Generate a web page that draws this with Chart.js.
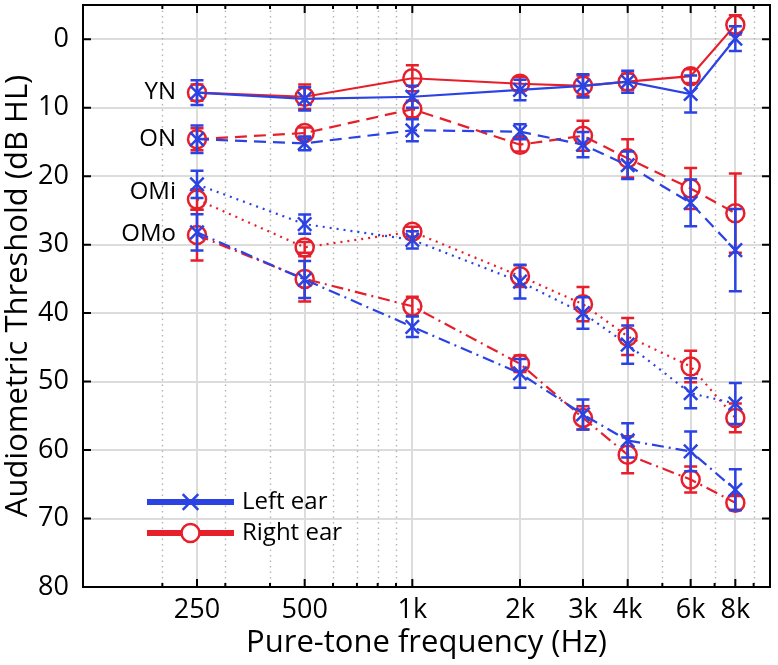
<!DOCTYPE html>
<html>
<head>
<meta charset="utf-8">
<script src="https://cdn.jsdelivr.net/npm/chart.js@4.4.1/dist/chart.umd.min.js"></script>
<style>
  body { margin: 0; background: #fff; }
  canvas { display: block; }
</style>
</head>
<body>
<canvas id="audiogram" width="778" height="665"></canvas>
<script>
// frequencies (Hz) and axis ticks
const freqs = [250, 500, 1000, 2000, 3000, 4000, 6000, 8000];
const freqLabels = ['250', '500', '1k', '2k', '3k', '4k', '6k', '8k'];
const minorFreqs = [200, 300, 400, 600, 700, 800, 900, 5000, 7000, 9000];
const yTicks = [0, 10, 20, 30, 40, 50, 60, 70, 80];

// thresholds (dB HL) and error bars, per group and ear
const ynLeft = [7.8, 8.7, 8.4, 7.4, 6.8, 6.2, 8.0, -0.1];
const ynLeftErr = [1.8, 1.7, 1.6, 1.5, 1.7, 1.6, 2.7, 1.8];
const ynRight = [7.8, 8.4, 5.7, 6.5, 6.8, 6.2, 5.4, -2.1];
const ynRightErr = [1.2, 1.8, 1.9, 1.0, 1.5, 1.2, 1.0, 1.4];

const onLeft = [14.6, 15.2, 13.3, 13.5, 15.4, 18.4, 23.9, 30.8];
const onLeftErr = [2.0, 1.0, 1.6, 1.1, 1.85, 2.0, 3.4, 6.0];
const onRight = [14.6, 13.7, 10.2, 15.4, 14.1, 17.4, 21.8, 25.4];
const onRightErr = [1.6, 0.8, 1.2, 1.0, 2.2, 2.8, 3.0, 5.8];

const omiLeft = [21.2, 27.0, 29.3, 35.4, 40.0, 44.6, 51.7, 53.2];
const omiLeftErr = [2.0, 1.4, 1.25, 2.45, 2.3, 2.8, 2.2, 3.0];
const omiRight = [23.4, 30.4, 28.1, 34.6, 38.7, 43.4, 47.8, 55.3];
const omiRightErr = [1.5, 0.8, 0.7, 1.6, 2.5, 2.7, 2.3, 2.1];

const omoLeft = [28.2, 35.1, 42.0, 48.8, 54.8, 58.6, 60.2, 65.8];
const omoLeftErr = [2.65, 2.7, 1.5, 2.1, 2.2, 2.5, 2.9, 3.0];
const omoRight = [28.6, 35.0, 39.0, 47.4, 55.3, 60.7, 64.3, 67.7];
const omoRightErr = [3.7, 3.3, 1.4, 1.2, 1.7, 2.7, 1.9, 1.0];

const groupNames = ['YN', 'ON', 'OMi', 'OMo'];
const groupLeft = [ynLeft, onLeft, omiLeft, omoLeft];
const groupLeftErr = [ynLeftErr, onLeftErr, omiLeftErr, omoLeftErr];
const groupRight = [ynRight, onRight, omiRight, omoRight];
const groupRightErr = [ynRightErr, onRightErr, omiRightErr, omoRightErr];
const groupDash = [[], [12, 7], [2, 5], [12, 5, 2, 5]];

const BLUE = '#2a43e2';
const RED = '#e71f2b';
const FONT = '"Open Sans", Lato, sans-serif';

function toPoints(vals) {
    return vals.map((v, i) => ({ x: freqs[i], y: v }));
}

// left ear first so it ends up drawn on top
const datasets = [];
groupNames.forEach((name, g) => {
    datasets.push({
        label: name + ' left',
        data: toPoints(groupLeft[g]),
        errs: groupLeftErr[g],
        borderColor: BLUE,
        borderWidth: 2.2,
        borderDash: groupDash[g],
        pointStyle: 'crossRot',
        pointRadius: 9.5,
        pointBorderWidth: 2.5,
        pointBorderColor: BLUE,
        pointBackgroundColor: BLUE
    });
});
groupNames.forEach((name, g) => {
    datasets.push({
        label: name + ' right',
        data: toPoints(groupRight[g]),
        errs: groupRightErr[g],
        borderColor: RED,
        borderWidth: 2.2,
        borderDash: groupDash[g],
        pointStyle: 'circle',
        pointRadius: 9,
        pointBorderWidth: 2.5,
        pointBorderColor: RED,
        pointBackgroundColor: 'rgba(0,0,0,0)'
    });
});

const audiogramPlugin = {
    id: 'audiogram',
    beforeDraw(chart) {
        const c = chart.ctx;
        c.save();
        c.fillStyle = '#fff';
        c.fillRect(0, 0, chart.width, chart.height);
        c.restore();
    },
    beforeDatasetsDraw(chart) {
        // dotted minor grid
        const c = chart.ctx, a = chart.chartArea, xs = chart.scales.x;
        c.save();
        c.strokeStyle = '#b4b4b4';
        c.lineWidth = 1.4;
        c.setLineDash([1.5, 4]);
        minorFreqs.forEach(f => {
            const x = Math.round(xs.getPixelForValue(f)) + 0.5;
            c.beginPath();
            c.moveTo(x, a.top);
            c.lineTo(x, a.bottom);
            c.stroke();
        });
        c.restore();
    },
    afterDatasetDraw(chart, args) {
        const ds = chart.data.datasets[args.index];
        if (!ds.errs) return;
        const c = chart.ctx, xs = chart.scales.x, ys = chart.scales.y;
        c.save();
        c.strokeStyle = ds.borderColor;
        c.lineWidth = 2.5;
        c.setLineDash([]);
        ds.data.forEach((p, i) => {
            const x = xs.getPixelForValue(p.x);
            const y1 = ys.getPixelForValue(p.y - ds.errs[i]);
            const y2 = ys.getPixelForValue(p.y + ds.errs[i]);
            c.beginPath();
            c.moveTo(x, y1); c.lineTo(x, y2);
            c.moveTo(x - 6.5, y1); c.lineTo(x + 6.5, y1);
            c.moveTo(x - 6.5, y2); c.lineTo(x + 6.5, y2);
            c.stroke();
        });
        c.restore();
    },
    afterDraw(chart) {
        const c = chart.ctx, a = chart.chartArea, xs = chart.scales.x, ys = chart.scales.y;
        c.save();
        c.strokeStyle = '#000';
        c.lineWidth = 2;
        c.setLineDash([]);
        // inward ticks
        c.beginPath();
        freqs.forEach(f => {
            const x = xs.getPixelForValue(f);
            c.moveTo(x, a.top); c.lineTo(x, a.top + 8);
            c.moveTo(x, a.bottom); c.lineTo(x, a.bottom - 8);
        });
        minorFreqs.forEach(f => {
            const x = xs.getPixelForValue(f);
            c.moveTo(x, a.top); c.lineTo(x, a.top + 4);
            c.moveTo(x, a.bottom); c.lineTo(x, a.bottom - 4);
        });
        yTicks.forEach(v => {
            const y = ys.getPixelForValue(v);
            c.moveTo(a.left, y); c.lineTo(a.left + 8, y);
            c.moveTo(a.right, y); c.lineTo(a.right - 8, y);
        });
        c.stroke();
        c.strokeRect(a.left, a.top, a.right - a.left, a.bottom - a.top);

        // y tick labels
        c.fillStyle = '#000';
        c.font = '27px ' + FONT;
        c.textAlign = 'right';
        c.textBaseline = 'middle';
        yTicks.forEach(v => {
            c.fillText(String(v), a.left - 14, ys.getPixelForValue(v));
        });

        // group labels next to the 250 Hz points
        c.font = '24px ' + FONT;
        const x0 = xs.getPixelForValue(freqs[0]) - 21;
        groupNames.forEach((name, g) => {
            const y = ys.getPixelForValue((groupLeft[g][0] + groupRight[g][0]) / 2);
            c.fillText(name, x0, y);
        });

        // legend
        const lx = a.left + 64, lw = 87;
        const rows = [
            { text: 'Left ear', color: BLUE, style: 'crossRot', y: a.bottom - 85 },
            { text: 'Right ear', color: RED, style: 'circle', y: a.bottom - 54 }
        ];
        rows.forEach(r => {
            c.strokeStyle = r.color;
            c.lineWidth = 6;
            c.beginPath();
            c.moveTo(lx, r.y); c.lineTo(lx + lw, r.y);
            c.stroke();
            c.lineWidth = 2.5;
            if (r.style === 'circle') {
                c.fillStyle = '#fff';
                c.beginPath();
                c.arc(lx + lw / 2, r.y, 9, 0, Math.PI * 2);
                c.fill();
                c.stroke();
            } else {
                Chart.helpers.drawPoint(c, {
                    pointStyle: r.style, radius: 11, borderWidth: 2.5, rotation: 0
                }, lx + lw / 2, r.y);
            }
            c.fillStyle = '#000';
            c.font = '24px ' + FONT;
            c.textAlign = 'left';
            c.textBaseline = 'middle';
            c.fillText(r.text, lx + lw + 8, r.y);
        });
        c.restore();
    }
};

new Chart(document.getElementById('audiogram'), {
    type: 'line',
    data: { datasets: datasets },
    options: {
        responsive: false,
        animation: false,
        // no automatic room for the markers: the frame sits where the original has it
        layout: { autoPadding: false, padding: { top: 5, right: 8, left: 0, bottom: 0 } },
        plugins: { legend: { display: false }, tooltip: { enabled: false } },
        scales: {
            x: {
                type: 'logarithmic',
                min: 120,
                max: 10000,
                afterBuildTicks: s => { s.ticks = freqs.map(v => ({ value: v })); },
                afterFit: s => { s.height = 78; s.paddingLeft = 0; s.paddingRight = 0; },
                ticks: {
                    autoSkip: false,
                    maxRotation: 0,
                    padding: 7,
                    color: '#000',
                    font: { family: FONT, size: 27 },
                    callback: v => freqLabels[freqs.indexOf(v)]
                },
                grid: { color: '#dcdcdc', lineWidth: 2, drawTicks: false },
                border: { display: false },
                title: {
                    display: true,
                    text: 'Pure-tone frequency (Hz)',
                    color: '#000',
                    font: { family: FONT, size: 31 },
                    padding: { top: 0, bottom: 3 }
                }
            },
            y: {
                reverse: true,
                min: -5,
                max: 80,
                afterBuildTicks: s => { s.ticks = yTicks.map(v => ({ value: v })); },
                afterFit: s => { s.width = 83; s.paddingTop = 0; s.paddingBottom = 0; },
                ticks: { display: false },
                grid: { color: '#dcdcdc', lineWidth: 2, drawTicks: false },
                border: { display: false },
                title: {
                    display: true,
                    text: 'Audiometric Threshold (dB HL)',
                    color: '#000',
                    font: { family: FONT, size: 31 },
                    padding: { top: 0, bottom: 0 }
                }
            }
        }
    },
    plugins: [audiogramPlugin]
});
</script>
</body>
</html>
